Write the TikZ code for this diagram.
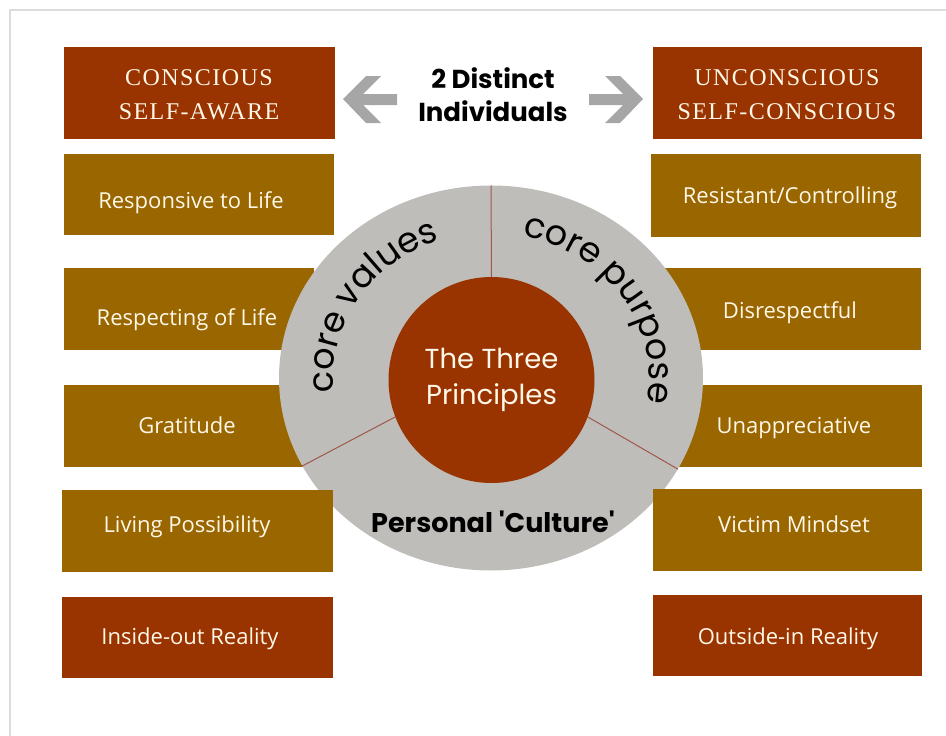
\documentclass[tikz,border=0pt]{standalone}
\usepackage{fontspec}
\setmainfont{Liberation Serif}
\newfontfamily\boxfont{Open Sans}
\newfontfamily\gothic{Poppins}
\newfontfamily\gothictight[LetterSpace=-4]{Poppins}
\newfontfamily\headserif[LetterSpace=6]{Liberation Serif}
\usetikzlibrary{shapes.geometric,decorations.text,calc}
\definecolor{rust}{HTML}{993300}
\definecolor{ochre}{HTML}{996600}
\definecolor{ringgrey}{HTML}{BEBDB9}
\definecolor{divider}{HTML}{A0584A}
\definecolor{cream}{HTML}{FFF8E8}
\definecolor{arrowgrey}{HTML}{A6A6A6}
\definecolor{framegrey}{HTML}{DCDCDC}
\newcommand\arcfont{\gothictight\fontsize{35pt}{35pt}\selectfont}
\begin{document}
\begin{tikzpicture}[x=1pt,y=1pt,
  panel/.style={rectangle, inner sep=0pt, anchor=north west},
  rustbox/.style={panel, fill=rust},
  ochrebox/.style={panel, fill=ochre},
  boxlabel/.style={text=cream, font=\boxfont\fontsize{22pt}{26pt}\selectfont, anchor=base, inner sep=0pt},
  headlabel/.style={text=cream, font=\headserif\fontsize{24pt}{34pt}\selectfont, align=center, inner sep=0pt},
  divline/.style={draw=divider, line width=1pt},
  arctext/.style={decorate, decoration={text along path, text align=center, text={|\arcfont|#1}}},
]
\useasboundingbox (0,0) rectangle (946,-736);

% frame
\draw[framegrey, line width=2pt] (10,-736) -- (10,-10) -- (946,-10);

% header panels
\node[rustbox, minimum width=271pt, minimum height=92pt] (conscious) at (64,-47) {};
\node[rustbox, minimum width=269pt, minimum height=92pt] (unconscious) at (653,-47) {};
\node[headlabel] (consciousT) at (199,-95) {CONSCIOUS\\SELF-AWARE};
\node[headlabel] (unconsciousT) at (787,-95) {UNCONSCIOUS\\SELF-CONSCIOUS};

% panels lying under the ring
\node[ochrebox, minimum width=270pt, minimum height=81pt] (responsive) at (64,-154) {};
\node[ochrebox, minimum width=250pt, minimum height=82pt] (respecting) at (64,-268) {};
\node[ochrebox, minimum width=250pt, minimum height=82pt] (gratitude) at (64,-385) {};
\node[ochrebox, minimum width=270pt, minimum height=83pt] (resistant) at (651,-154) {};
\node[ochrebox, minimum width=261pt, minimum height=82pt] (disrespectful) at (660,-268) {};
\node[ochrebox, minimum width=262pt, minimum height=82pt] (unappreciative) at (660,-385) {};
\node[boxlabel] (responsiveT) at (191,-208) {Responsive to Life};
\node[boxlabel] (respectingT) at (187,-325) {Respecting of Life};
\node[boxlabel] (gratitudeT) at (187,-433) {Gratitude};
\node[boxlabel] (resistantT) at (790,-203) {Resistant/Controlling};
\node[boxlabel] (disrespectfulT) at (790,-318) {Disrespectful};
\node[boxlabel] (unappreciativeT) at (794,-433) {Unappreciative};

% the ring with its three sectors
\node[ellipse, fill=ringgrey, inner sep=0pt, minimum width=424pt, minimum height=385pt] (ring) at (491,-378) {};
\node[circle, fill=rust, inner sep=0pt, minimum size=206pt] (core) at (491.5,-380) {};
\draw[divline] (core.90) -- (ring.90);
\draw[divline] (core.201) -- (ring.205);
\draw[divline] (core.-21) -- (ring.-26);
\node[text=cream, font=\gothic\fontsize{27.5pt}{36pt}\selectfont, align=center, inner sep=0pt] (coreT) at (core.center) {The Three\\Principles};
\path[arctext={core values}] ($(ring.center)+(205:158pt and 145pt)$) arc[start angle=205, end angle=91, x radius=158pt, y radius=145pt];
\path[arctext={core purpose}] ($(ring.center)+(89:158pt and 145pt)$) arc[start angle=89, end angle=-21, x radius=158pt, y radius=145pt];
\node[font=\gothic\bfseries\fontsize{27pt}{30pt}\selectfont, anchor=base, inner sep=0pt] (culture) at (493,-532) {Personal {\char"27}Culture{\char"27}};

% panels lying over the ring
\node[ochrebox, minimum width=271pt, minimum height=82pt] (living) at (62,-490) {};
\node[rustbox, minimum width=271pt, minimum height=81pt] (insideout) at (62,-597) {};
\node[ochrebox, minimum width=269pt, minimum height=82pt] (victim) at (653,-489) {};
\node[rustbox, minimum width=269pt, minimum height=81pt] (outsidein) at (653,-595) {};
\node[boxlabel] (livingT) at (187,-532) {Living Possibility};
\node[boxlabel] (insideoutT) at (190,-644) {Inside-out Reality};
\node[boxlabel] (victimT) at (794,-532) {Victim Mindset};
\node[boxlabel] (outsideinT) at (788,-644) {Outside-in Reality};

% title with its two arrows
\node[font=\gothic\bfseries\fontsize{26pt}{33pt}\selectfont, align=center, inner sep=0pt] (title) at (493,-95) {2 Distinct\\Individuals};
\fill[arrowgrey] (343,-99) -- (366,-76) -- (381,-76) -- (363,-94) -- (397,-94) -- (397,-105) -- (363,-105) -- (381,-123) -- (366,-123) -- cycle;
\fill[arrowgrey] (643,-99) -- (620,-76) -- (605,-76) -- (623,-94) -- (589,-94) -- (589,-105) -- (623,-105) -- (605,-123) -- (620,-123) -- cycle;
\end{tikzpicture}
\end{document}
